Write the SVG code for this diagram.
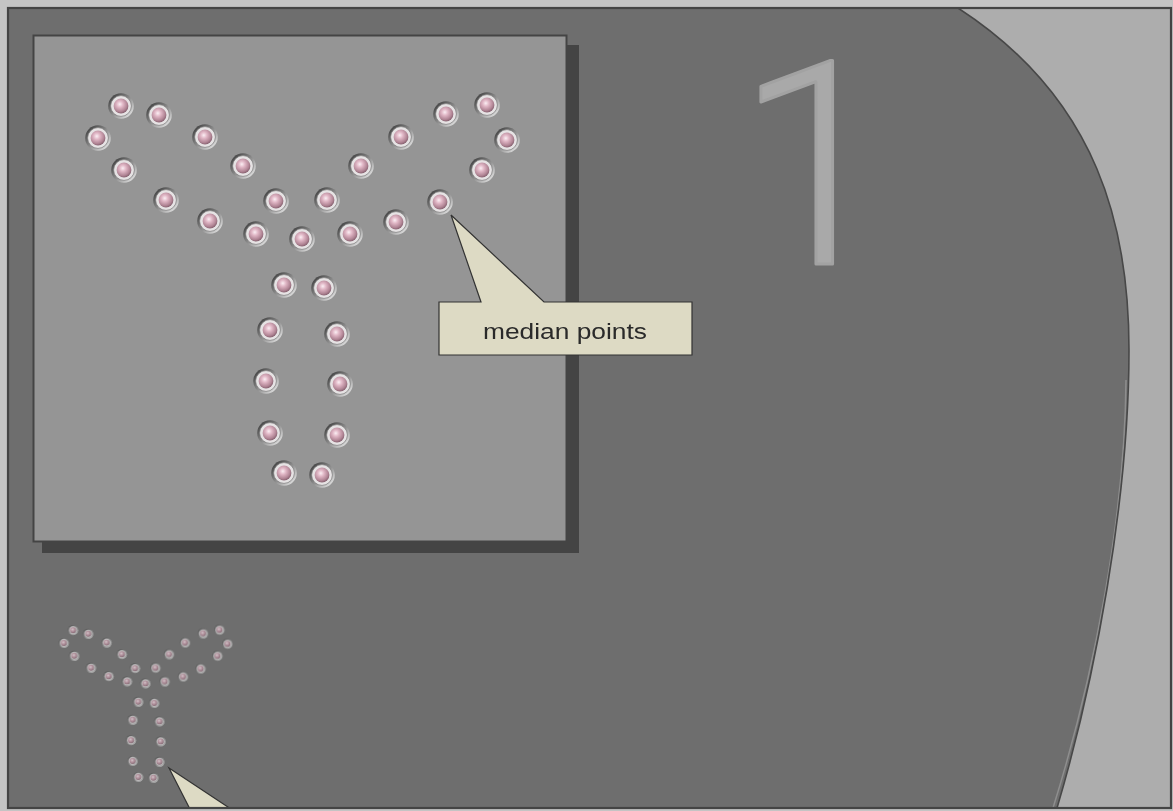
<svg xmlns="http://www.w3.org/2000/svg" xmlns:xlink="http://www.w3.org/1999/xlink" width="1173" height="811" viewBox="0 0 1173 811">
  <style>
    .callout { fill: #dddac4; stroke: #333; stroke-width: 1.2; stroke-linejoin: miter; }
    .label { font-family: "Liberation Sans", Arial, sans-serif; font-size: 22px; fill: #2a2a2a; }
    .digit { font-family: Roboto, "Open Sans", sans-serif; font-weight: 300; font-size: 285px; fill: #a9a9a9; stroke: #a2a2a2; stroke-width: 3; stroke-linejoin: round; }
  </style>
  <defs>
    <clipPath id="frameClip">
      <rect x="8" y="8" width="1163" height="800"/>
    </clipPath>
    <linearGradient id="bezel" x1="0" y1="0" x2="1" y2="1">
      <stop offset="0" stop-color="#2e2e2e"/>
      <stop offset="0.5" stop-color="#8c8c8c"/>
      <stop offset="1" stop-color="#f8f8f8"/>
    </linearGradient>
    <radialGradient id="ball" cx="0.42" cy="0.38" r="0.62">
      <stop offset="0" stop-color="#fbeef3"/>
      <stop offset="0.35" stop-color="#e0b6c5"/>
      <stop offset="0.8" stop-color="#b08494"/>
      <stop offset="1" stop-color="#8a6473"/>
    </radialGradient>
    <g id="pin">
      <circle r="12.8" fill="url(#bezel)"/>
      <circle r="10.4" fill="#e6e3e4" stroke="#7a7a7a" stroke-width="0.7"/>
      <circle r="7.4" fill="url(#ball)"/>
    </g>
    <g id="ypins">
      <use href="#pin" x="121" y="106"/>
      <use href="#pin" x="159" y="115"/>
      <use href="#pin" x="98" y="138"/>
      <use href="#pin" x="205" y="137"/>
      <use href="#pin" x="124" y="170"/>
      <use href="#pin" x="243" y="166"/>
      <use href="#pin" x="166" y="200"/>
      <use href="#pin" x="276" y="201"/>
      <use href="#pin" x="210" y="221"/>
      <use href="#pin" x="256" y="234"/>
      <use href="#pin" x="302" y="239"/>
      <use href="#pin" x="487" y="105"/>
      <use href="#pin" x="446" y="114"/>
      <use href="#pin" x="507" y="140"/>
      <use href="#pin" x="401" y="137"/>
      <use href="#pin" x="482" y="170"/>
      <use href="#pin" x="361" y="166"/>
      <use href="#pin" x="440" y="202"/>
      <use href="#pin" x="327" y="200"/>
      <use href="#pin" x="396" y="222"/>
      <use href="#pin" x="350" y="234"/>
      <use href="#pin" x="284" y="285"/>
      <use href="#pin" x="324" y="288"/>
      <use href="#pin" x="270" y="330"/>
      <use href="#pin" x="337" y="334"/>
      <use href="#pin" x="266" y="381"/>
      <use href="#pin" x="340" y="384"/>
      <use href="#pin" x="270" y="433"/>
      <use href="#pin" x="337" y="435"/>
      <use href="#pin" x="284" y="473"/>
      <use href="#pin" x="322" y="475"/>
    </g>
  </defs>

  <rect x="0" y="0" width="1173" height="811" fill="#c4c4c4"/>

  <g clip-path="url(#frameClip)">
    <rect id="frame-bg" x="8" y="8" width="1163" height="800" fill="#6e6e6e"/>

    <g id="right-region">
      <path d="M958,8 C1100,100 1129,230 1129,350 C1129,500 1095,680 1057,808 L1172,808 L1172,8 Z" fill="#adadad"/>
      <path d="M1126,380 C1125,520 1093,680 1053,808" fill="none" stroke="#8e8e8e" stroke-width="1.5"/>
      <path d="M958,8 C1100,100 1129,230 1129,350 C1129,500 1095,680 1057,808" fill="none" stroke="#484848" stroke-width="1.6"/>
    </g>

    <g id="panel">
      <rect x="42" y="45" width="537" height="508" fill="#444"/>
      <rect x="33.5" y="35.5" width="533" height="506" fill="#959595" stroke="#444" stroke-width="2"/>
    </g>

    <g id="big-y">
      <use href="#ypins"/>
    </g>

    <g id="small-y" transform="translate(24.6,587.8) scale(0.4)" opacity="0.7">
      <use href="#ypins"/>
    </g>

    <g id="callout-median">
      <path class="callout" d="M439,302 L481,302 L451,215 L544,302 L692,302 L692,355 L439,355 Z"/>
      <text class="label" x="565" y="339" text-anchor="middle" textLength="164" lengthAdjust="spacingAndGlyphs">median points</text>
    </g>

    <g id="callout-bottom">
      <path class="callout" d="M193,815 L169,768 L240,815 Z"/>
    </g>
  </g>

  <g id="digit-one">
    <text class="digit" x="736" y="264">1</text>
  </g>

  <rect id="frame-border" x="8" y="8" width="1163" height="800" fill="none" stroke="#444" stroke-width="2.2"/>
</svg>
